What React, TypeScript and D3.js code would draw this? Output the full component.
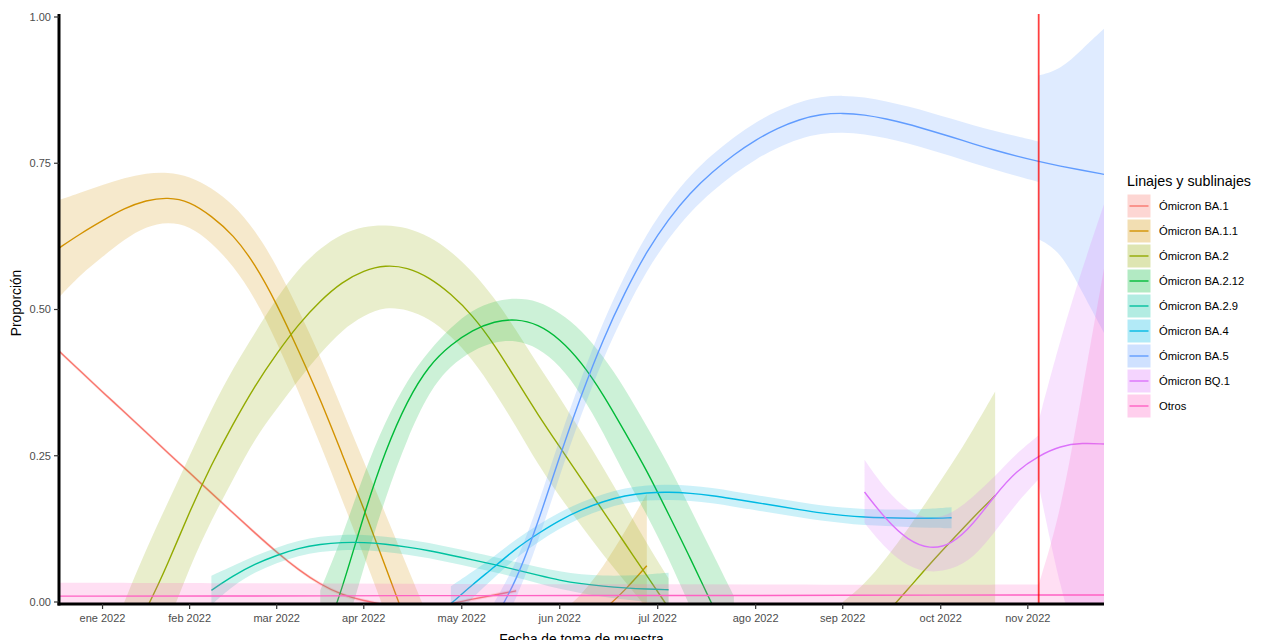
import React from "react";
import * as d3 from "d3";

const WIDTH = 1261;
const HEIGHT = 640;
const PANEL = { left: 59, right: 1104, top: 14, bottom: 604 };
const FONT = "'Liberation Sans', Arial, sans-serif";

// x axis is in weeks counted from the first week of January 2022
const weekDomain = [-2, 46];
const tickWeeks = [0, 4, 8, 12, 16.5, 21, 25.5, 30, 34, 38.5, 42.5];
const tickLabels = ["ene 2022", "feb 2022", "mar 2022", "apr 2022", "may 2022", "jun 2022", "jul 2022", "ago 2022", "sep 2022", "oct 2022", "nov 2022"];
const yTicks = [0, 0.25, 0.5, 0.75, 1];
const cutoffWeek = 43;

const lineages = ["Ómicron BA.1", "Ómicron BA.1.1", "Ómicron BA.2", "Ómicron BA.2.12", "Ómicron BA.2.9", "Ómicron BA.4", "Ómicron BA.5", "Ómicron BQ.1", "Otros"];
const colors = ["#F8766D", "#D39200", "#93AA00", "#00BA38", "#00C19F", "#00B9E3", "#619CFF", "#DB72FB", "#FF61C3"];

// Ómicron BA.1
const ba1Weeks = [-2, -1, 0, 1, 2, 3, 4, 5, 6, 7, 8, 9, 10, 11, 12, 13];
const ba1Fit = [0.429, 0.394, 0.359, 0.325, 0.29, 0.255, 0.221, 0.186, 0.152, 0.118, 0.085, 0.055, 0.03, 0.012, 0.002, -0.005];
const ba1Hi = [0.432, 0.397, 0.362, 0.328, 0.293, 0.258, 0.224, 0.189, 0.155, 0.121, 0.088, 0.058, 0.033, 0.015, 0.005, -0.002];
const ba1Lo = [0.426, 0.391, 0.356, 0.322, 0.287, 0.252, 0.218, 0.183, 0.149, 0.115, 0.082, 0.052, 0.027, 0.009, -0.001, -0.008];
const ba1bWeeks = [16, 17, 18, 19];
const ba1bFit = [-0.003, 0.005, 0.012, 0.019];
const ba1bHi = [0.0, 0.008, 0.015, 0.022];
const ba1bLo = [-0.006, 0.002, 0.009, 0.016];

// Ómicron BA.1.1
const ba11Weeks = [-2, -1, 0, 1, 2, 3, 4, 5, 6, 7, 8, 9, 10, 11, 12, 13, 14, 15];
const ba11Fit = [0.605, 0.63, 0.652, 0.673, 0.687, 0.692, 0.685, 0.66, 0.628, 0.578, 0.51, 0.43, 0.347, 0.253, 0.16, 0.06, -0.04, -0.14];
const ba11Hi = [0.687, 0.7, 0.713, 0.725, 0.733, 0.735, 0.728, 0.708, 0.68, 0.636, 0.575, 0.5, 0.42, 0.33, 0.24, 0.15, 0.06, -0.03];
const ba11Lo = [0.521, 0.56, 0.59, 0.62, 0.642, 0.65, 0.643, 0.615, 0.575, 0.52, 0.445, 0.36, 0.27, 0.175, 0.08, -0.02, -0.12, -0.22];
const ba11bWeeks = [21, 22, 23, 24, 25];
const ba11bFit = [-0.06, -0.04, -0.015, 0.02, 0.062];
const ba11bHi = [-0.02, 0.012, 0.06, 0.12, 0.185];
const ba11bLo = [-0.1, -0.09, -0.09, -0.08, -0.06];

// Ómicron BA.2
const ba2Weeks = [1, 2, 3, 4, 5, 6, 7, 8, 9, 10, 11, 12, 13, 14, 15, 16, 17, 18, 19, 20, 21, 22, 23, 24, 25, 26];
const ba2Fit = [-0.08, -0.015, 0.065, 0.155, 0.235, 0.305, 0.37, 0.425, 0.475, 0.515, 0.547, 0.567, 0.576, 0.572, 0.555, 0.527, 0.49, 0.44, 0.38, 0.32, 0.265, 0.21, 0.155, 0.1, 0.045, -0.01];
const ba2Hi = [0, 0.09, 0.17, 0.25, 0.33, 0.4, 0.46, 0.52, 0.57, 0.605, 0.63, 0.642, 0.645, 0.64, 0.625, 0.6, 0.565, 0.52, 0.465, 0.405, 0.35, 0.29, 0.23, 0.165, 0.1, 0.04];
const ba2Lo = [-0.16, -0.1, -0.04, 0.06, 0.14, 0.21, 0.28, 0.33, 0.38, 0.425, 0.465, 0.49, 0.505, 0.5, 0.485, 0.455, 0.415, 0.36, 0.3, 0.235, 0.18, 0.13, 0.08, 0.035, -0.01, -0.06];
const ba2bWeeks = [34, 35, 36, 37, 38, 39, 40, 41];
const ba2bFit = [-0.09, -0.06, -0.02, 0.022, 0.065, 0.105, 0.145, 0.182];
const ba2bHi = [0, 0.03, 0.075, 0.125, 0.18, 0.235, 0.295, 0.36];
const ba2bLo = [-0.2, -0.17, -0.13, -0.09, -0.06, -0.04, -0.02, -0.01];

// Ómicron BA.2.12
const ba212Weeks = [10, 11, 12, 13, 14, 15, 16, 17, 18, 19, 20, 21, 22, 23, 24, 25, 26, 27, 28, 29];
const ba212Fit = [-0.08, 0.02, 0.15, 0.26, 0.345, 0.405, 0.44, 0.465, 0.48, 0.484, 0.475, 0.45, 0.41, 0.355, 0.29, 0.225, 0.15, 0.075, -0.005, -0.08];
const ba212Hi = [0.02, 0.11, 0.22, 0.31, 0.38, 0.43, 0.47, 0.5, 0.515, 0.52, 0.515, 0.495, 0.465, 0.42, 0.365, 0.3, 0.235, 0.16, 0.085, 0.01];
const ba212Lo = [-0.18, -0.07, 0.06, 0.18, 0.28, 0.36, 0.405, 0.43, 0.445, 0.448, 0.435, 0.405, 0.355, 0.29, 0.215, 0.15, 0.075, -0.01, -0.09, -0.17];

// Ómicron BA.2.9
const ba29Weeks = [5, 6, 7, 8, 9, 10, 11, 12, 13, 14, 15, 16, 17, 18, 19, 20, 21, 22, 23, 24, 25, 26];
const ba29Fit = [0.02, 0.045, 0.065, 0.08, 0.092, 0.099, 0.102, 0.102, 0.099, 0.094, 0.088, 0.08, 0.072, 0.064, 0.055, 0.046, 0.037, 0.031, 0.027, 0.024, 0.022, 0.021];
const ba29Hi = [0.045, 0.062, 0.079, 0.093, 0.105, 0.112, 0.115, 0.115, 0.112, 0.107, 0.101, 0.093, 0.085, 0.077, 0.068, 0.06, 0.052, 0.047, 0.045, 0.045, 0.047, 0.05];
const ba29Lo = [-0.005, 0.028, 0.051, 0.067, 0.079, 0.086, 0.089, 0.089, 0.086, 0.081, 0.075, 0.067, 0.059, 0.051, 0.042, 0.032, 0.022, 0.015, 0.009, 0.004, 0, -0.005];

// Ómicron BA.4
const ba4Weeks = [16, 17, 18, 19, 20, 21, 22, 23, 24, 25, 26, 27, 28, 29, 30, 31, 32, 33, 34, 35, 36, 37, 38, 39];
const ba4Fit = [-0.003, 0.03, 0.06, 0.092, 0.117, 0.14, 0.158, 0.172, 0.182, 0.187, 0.188, 0.186, 0.182, 0.176, 0.17, 0.164, 0.158, 0.152, 0.148, 0.145, 0.144, 0.143, 0.143, 0.144];
const ba4Hi = [0.027, 0.052, 0.078, 0.108, 0.132, 0.154, 0.171, 0.185, 0.195, 0.2, 0.201, 0.199, 0.195, 0.189, 0.183, 0.177, 0.171, 0.165, 0.161, 0.159, 0.158, 0.158, 0.159, 0.162];
const ba4Lo = [-0.033, 0.008, 0.042, 0.076, 0.102, 0.126, 0.145, 0.159, 0.169, 0.174, 0.175, 0.173, 0.169, 0.163, 0.157, 0.151, 0.145, 0.139, 0.135, 0.131, 0.13, 0.128, 0.127, 0.126];

// Ómicron BA.5
const ba5Weeks = [18, 19, 20, 21, 22, 23, 24, 25, 26, 27, 28, 29, 30, 31, 32, 33, 34, 35, 36, 37, 38, 39, 40, 41, 42, 43, 44, 45, 46];
const ba5Fit = [-0.03, 0.035, 0.135, 0.25, 0.355, 0.45, 0.53, 0.6, 0.655, 0.7, 0.735, 0.765, 0.79, 0.81, 0.825, 0.834, 0.836, 0.833, 0.826, 0.817, 0.806, 0.795, 0.783, 0.772, 0.762, 0.753, 0.745, 0.738, 0.731];
const ba5BandWeeks = [18, 19, 20, 21, 22, 23, 24, 25, 26, 27, 28, 29, 30, 31, 32, 33, 34, 35, 36, 37, 38, 39, 40, 41, 42, 43];
const ba5Hi = [0, 0.065, 0.165, 0.28, 0.385, 0.48, 0.56, 0.63, 0.685, 0.73, 0.765, 0.795, 0.82, 0.84, 0.855, 0.864, 0.866, 0.863, 0.856, 0.847, 0.837, 0.826, 0.815, 0.805, 0.796, 0.787];
const ba5Lo = [-0.063, 0.002, 0.102, 0.217, 0.322, 0.417, 0.497, 0.567, 0.622, 0.667, 0.702, 0.732, 0.757, 0.777, 0.792, 0.801, 0.803, 0.8, 0.793, 0.784, 0.773, 0.762, 0.75, 0.739, 0.728, 0.718];
const ba5TailWeeks = [43, 44, 45, 46];
const ba5TailHi = [0.9, 0.91, 0.945, 0.98];
const ba5TailLo = [0.62, 0.6, 0.53, 0.46];

// Ómicron BQ.1
const bq1Weeks = [35, 36, 37, 38, 39, 40, 41, 42, 43, 44, 45, 46];
const bq1Fit = [0.188, 0.14, 0.105, 0.09, 0.098, 0.133, 0.183, 0.225, 0.25, 0.267, 0.272, 0.27];
const bq1BandWeeks = [35, 36, 37, 38, 39, 40, 41, 42, 43];
const bq1Hi = [0.243, 0.19, 0.155, 0.14, 0.15, 0.18, 0.215, 0.255, 0.285];
const bq1Lo = [0.135, 0.09, 0.06, 0.05, 0.055, 0.075, 0.12, 0.17, 0.21];
const bq1TailWeeks = [43, 44, 45, 46];
const bq1TailHi = [0.31, 0.45, 0.57, 0.68];
const bq1TailLo = [0.2, 0.02, -0.1, -0.2];

// Otros
const otrosWeeks = [-2, 6, 14, 22, 30, 38, 46];
const otrosFit = [0.01, 0.01, 0.011, 0.011, 0.011, 0.012, 0.012];
const otrosBandWeeks = [-2, 6, 14, 22, 30, 38, 43];
const otrosHi = [0.033, 0.032, 0.031, 0.03, 0.03, 0.029, 0.03];
const otrosLo = [-0.005, -0.005, -0.005, -0.005, -0.005, -0.005, -0.005];
const otrosTailWeeks = [43, 44, 45, 46];
const otrosTailHi = [0.03, 0.15, 0.36, 0.57];
const otrosTailLo = [-0.005, -0.005, -0.005, -0.005];

type Pt = { w: number; v: number };
type BandPt = { w: number; lo: number; hi: number };

const pts = (w: number[], v: number[]): Pt[] => w.map((x, i) => ({ w: x, v: v[i] }));
const band = (w: number[], lo: number[], hi: number[]): BandPt[] => w.map((x, i) => ({ w: x, lo: lo[i], hi: hi[i] }));

const series = [
  { lines: [pts(ba1Weeks, ba1Fit), pts(ba1bWeeks, ba1bFit)], bands: [band(ba1Weeks, ba1Lo, ba1Hi), band(ba1bWeeks, ba1bLo, ba1bHi)] },
  { lines: [pts(ba11Weeks, ba11Fit), pts(ba11bWeeks, ba11bFit)], bands: [band(ba11Weeks, ba11Lo, ba11Hi), band(ba11bWeeks, ba11bLo, ba11bHi)] },
  { lines: [pts(ba2Weeks, ba2Fit), pts(ba2bWeeks, ba2bFit)], bands: [band(ba2Weeks, ba2Lo, ba2Hi), band(ba2bWeeks, ba2bLo, ba2bHi)] },
  { lines: [pts(ba212Weeks, ba212Fit)], bands: [band(ba212Weeks, ba212Lo, ba212Hi)] },
  { lines: [pts(ba29Weeks, ba29Fit)], bands: [band(ba29Weeks, ba29Lo, ba29Hi)] },
  { lines: [pts(ba4Weeks, ba4Fit)], bands: [band(ba4Weeks, ba4Lo, ba4Hi)] },
  { lines: [pts(ba5Weeks, ba5Fit)], bands: [band(ba5BandWeeks, ba5Lo, ba5Hi), band(ba5TailWeeks, ba5TailLo, ba5TailHi)] },
  { lines: [pts(bq1Weeks, bq1Fit)], bands: [band(bq1BandWeeks, bq1Lo, bq1Hi), band(bq1TailWeeks, bq1TailLo, bq1TailHi)] },
  { lines: [pts(otrosWeeks, otrosFit)], bands: [band(otrosBandWeeks, otrosLo, otrosHi), band(otrosTailWeeks, otrosTailLo, otrosTailHi)] },
];

export default function App() {
  const x = d3.scaleLinear().domain(weekDomain).range([PANEL.left, PANEL.right]);
  const y = d3.scaleLinear().domain([0, 1]).range([602, 17]);

  const lineGen = d3
    .line<Pt>()
    .x((d) => x(d.w))
    .y((d) => y(d.v))
    .curve(d3.curveBasis);
  const areaGen = d3
    .area<BandPt>()
    .x((d) => x(d.w))
    .y0((d) => y(d.lo))
    .y1((d) => y(d.hi))
    .curve(d3.curveBasis);

  const legendTop = 194.5;
  const legendStep = 25;

  return (
    <svg
      width={WIDTH}
      height={HEIGHT}
      style={{ position: "absolute", left: 0, top: 0, background: "#fff" }}
      fontFamily={FONT}
    >
      <defs>
        <clipPath id="panel-clip">
          <rect x={PANEL.left} y={PANEL.top} width={PANEL.right - PANEL.left} height={PANEL.bottom - PANEL.top} />
        </clipPath>
      </defs>

      <g clipPath="url(#panel-clip)">
        {series.map((s, i) => (
          <g key={i}>
            {s.bands.map((b, j) => (
              <path key={"b" + j} d={areaGen(b) || ""} fill={colors[i]} fillOpacity={0.2} stroke="none" />
            ))}
            {s.lines.map((l, j) => (
              <path key={"l" + j} d={lineGen(l) || ""} fill="none" stroke={colors[i]} strokeWidth={1.4} />
            ))}
          </g>
        ))}
        <line x1={x(cutoffWeek)} x2={x(cutoffWeek)} y1={PANEL.top} y2={PANEL.bottom} stroke="red" strokeOpacity={0.75} strokeWidth={1.8} />
      </g>

      {/* y axis */}
      <line x1={PANEL.left} x2={PANEL.left} y1={PANEL.top} y2={PANEL.bottom + 1.5} stroke="#000" strokeWidth={3} />
      {yTicks.map((t) => (
        <g key={t}>
          <line x1={PANEL.left - 5} x2={PANEL.left} y1={y(t)} y2={y(t)} stroke="#333" strokeWidth={1.2} />
          <text x={PANEL.left - 8} y={y(t)} dy="0.35em" textAnchor="end" fontSize={11} fill="#4D4D4D">
            {d3.format(".2f")(t)}
          </text>
        </g>
      ))}

      {/* x axis */}
      <line x1={PANEL.left - 1.5} x2={PANEL.right} y1={PANEL.bottom} y2={PANEL.bottom} stroke="#000" strokeWidth={3} />
      {tickWeeks.map((t, i) => (
        <g key={t}>
          <line x1={x(t)} x2={x(t)} y1={PANEL.bottom} y2={PANEL.bottom + 5} stroke="#333" strokeWidth={1.2} />
          <text x={x(t)} y={PANEL.bottom + 18} textAnchor="middle" fontSize={11} fill="#4D4D4D">
            {tickLabels[i]}
          </text>
        </g>
      ))}

      <text x={(PANEL.left + PANEL.right) / 2} y={644} textAnchor="middle" fontSize={13.75} fill="#000">
        Fecha de toma de muestra
      </text>
      <text transform={`translate(21,${(PANEL.top + PANEL.bottom) / 2 - 6}) rotate(-90)`} textAnchor="middle" fontSize={13.75} fill="#000">
        Proporción
      </text>

      {/* legend */}
      <text x={1127} y={186} fontSize={14.3} fill="#000">
        Linajes y sublinajes
      </text>
      {lineages.map((name, i) => {
        const top = legendTop + i * legendStep;
        return (
          <g key={name}>
            <rect x={1127.5} y={top} width={23} height={23} fill={colors[i]} fillOpacity={0.3} />
            <line x1={1129.5} x2={1148.5} y1={top + 11.5} y2={top + 11.5} stroke={colors[i]} strokeWidth={1.4} />
            <text x={1159} y={top + 11.5} dy="0.35em" fontSize={11.2} fill="#000">
              {name}
            </text>
          </g>
        );
      })}
    </svg>
  );
}
